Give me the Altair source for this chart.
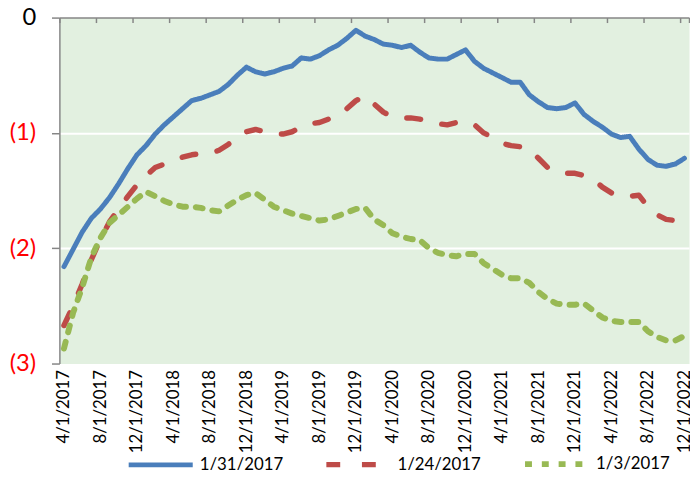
import json
import altair as alt
import pandas as pd

# monthly categories 4/1/2017 .. 12/1/2022
months = [f"{(3 + i) % 12 + 1}/1/{2017 + (3 + i) // 12}" for i in range(69)]

series_names = ["1/31/2017", "1/24/2017", "1/3/2017"]

blue = [-2.16, -2.01, -1.86, -1.74, -1.66, -1.56, -1.44, -1.31, -1.19, -1.11,
        -1.01, -0.93, -0.86, -0.79, -0.72, -0.70, -0.67, -0.64, -0.58, -0.50,
        -0.43, -0.47, -0.49, -0.47, -0.44, -0.42, -0.35, -0.36, -0.33, -0.28,
        -0.24, -0.18, -0.11, -0.16, -0.19, -0.23, -0.24, -0.26, -0.24, -0.30,
        -0.35, -0.36, -0.36, -0.32, -0.28, -0.38, -0.44, -0.48, -0.52, -0.56,
        -0.56, -0.67, -0.73, -0.78, -0.79, -0.78, -0.74, -0.84, -0.90, -0.95,
        -1.01, -1.04, -1.03, -1.14, -1.23, -1.28, -1.29, -1.27, -1.22]

red = [-2.67, -2.50, -2.31, -2.10, -1.92, -1.77, -1.66, -1.55, -1.45, -1.37,
       -1.30, -1.27, -1.24, -1.21, -1.19, -1.18, -1.18, -1.15, -1.10, -1.04,
       -0.99, -0.97, -0.99, -1.01, -1.01, -0.99, -0.95, -0.92, -0.91, -0.88,
       -0.84, -0.79, -0.72, -0.68, -0.75, -0.82, -0.86, -0.87, -0.87, -0.88,
       -0.90, -0.92, -0.93, -0.91, -0.90, -0.93, -1.00, -1.04, -1.09, -1.11,
       -1.12, -1.14, -1.22, -1.30, -1.34, -1.35, -1.35, -1.37, -1.40, -1.47,
       -1.52, -1.55, -1.55, -1.54, -1.64, -1.71, -1.75, -1.76, -1.70]

green = [-2.87, -2.56, -2.34, -2.08, -1.91, -1.78, -1.71, -1.64, -1.57, -1.51,
         -1.55, -1.59, -1.62, -1.64, -1.64, -1.65, -1.67, -1.68, -1.63, -1.58,
         -1.54, -1.52, -1.58, -1.64, -1.67, -1.70, -1.72, -1.74, -1.76, -1.75,
         -1.72, -1.69, -1.66, -1.65, -1.75, -1.80, -1.87, -1.90, -1.92, -1.93,
         -2.00, -2.04, -2.06, -2.07, -2.05, -2.05, -2.13, -2.18, -2.23, -2.26,
         -2.26, -2.30, -2.38, -2.44, -2.48, -2.49, -2.49, -2.48, -2.54, -2.60,
         -2.63, -2.64, -2.64, -2.64, -2.72, -2.77, -2.80, -2.80, -2.76]

colors = ["#4A7EBB", "#BE4B48", "#98B954"]
dashes = [[1, 0], [14, 22], [7, 10]]
widths = [5, 6, 3.2]

rows = []
for name, vals in zip(series_names, [blue, red, green]):
    for i, v in enumerate(vals):
        rows.append({"idx": i, "month": months[i], "series": name, "value": v})
df = pd.DataFrame(rows)

label_idx = list(range(0, 69, 4))
tick_pos = [k - 0.5 for k in range(0, 69, 4)] + [68.5]
label_arr = json.dumps(months)

FONT = "Lato"
PLOT_H = 350

xscale = alt.Scale(domain=[-0.5, 68.5], nice=False, zero=False)
yscale = alt.Scale(domain=[-3, 0], nice=False, zero=False)

yaxis = alt.Axis(
    values=[-3, -2, -1, 0],
    labelExpr="datum.value == 0 ? '0' : '(' + abs(datum.value) + ')'",
    labelColor={"condition": {"test": "datum.value == 0", "value": "#000000"}, "value": "#FF0000"},
    labelFont=FONT, labelFontSize=24, labelPadding=16,
    domainColor="#868686", domainWidth=1.5,
    tickColor="#868686", tickWidth=1.5, tickSize=8,
    grid=True, gridColor="#FFFFFF", gridWidth=2,
    gridOpacity={"condition": {"test": "datum.value == 0 || datum.value == -3", "value": 0}, "value": 1},
    title=None,
)

lines = alt.Chart(df).mark_line(strokeCap="round", strokeJoin="round").encode(
    x=alt.X("idx:Q", scale=xscale, axis=alt.Axis(
        orient="bottom", values=label_idx, labelExpr=f"{label_arr}[datum.value]",
        labelAngle=-90, labelFont=FONT, labelFontSize=17, labelColor="#000000",
        labelPadding=6, domain=False, ticks=False, grid=False, title=None)),
    y=alt.Y("value:Q", scale=yscale, axis=yaxis),
    color=alt.Color("series:N", sort=series_names,
                    scale=alt.Scale(domain=series_names, range=colors),
                    legend=alt.Legend(title=None)),
    strokeDash=alt.StrokeDash("series:N", sort=series_names,
                              scale=alt.Scale(domain=series_names, range=dashes),
                              legend=alt.Legend(title=None)),
    strokeWidth=alt.StrokeWidth("series:N", sort=series_names,
                                scale=alt.Scale(domain=series_names, range=widths),
                                legend=alt.Legend(title=None)),
    order="idx:Q",
)

tick_layer = alt.Chart(pd.DataFrame({"t": tick_pos})).mark_point(opacity=0).encode(
    x=alt.X("t:Q", scale=xscale, axis=alt.Axis(
        orient="bottom", offset=-PLOT_H, values=tick_pos, labels=False,
        ticks=True, tickSize=5, tickColor="#868686", tickWidth=1.5,
        domain=True, domainColor="#868686", domainWidth=1.5, grid=False, title=None)),
)

chart = alt.layer(lines, tick_layer).resolve_axis(x="independent").properties(
    width=637, height=PLOT_H,
    autosize=alt.AutoSizeParams(type="none"),
    padding={"left": 52, "top": 7, "right": 1, "bottom": 105},
).configure_view(
    fill="#E2F0E0", stroke="transparent",
).configure_legend(
    orient="none", legendX=67, legendY=416, direction="horizontal",
    symbolType="stroke", symbolSize=4200, labelFont=FONT, labelFontSize=17,
    labelColor="#000000", columnPadding=32, labelOffset=4, columns=3,
)

chart.save("out.html", embed_options={"renderer": "svg", "actions": False})
